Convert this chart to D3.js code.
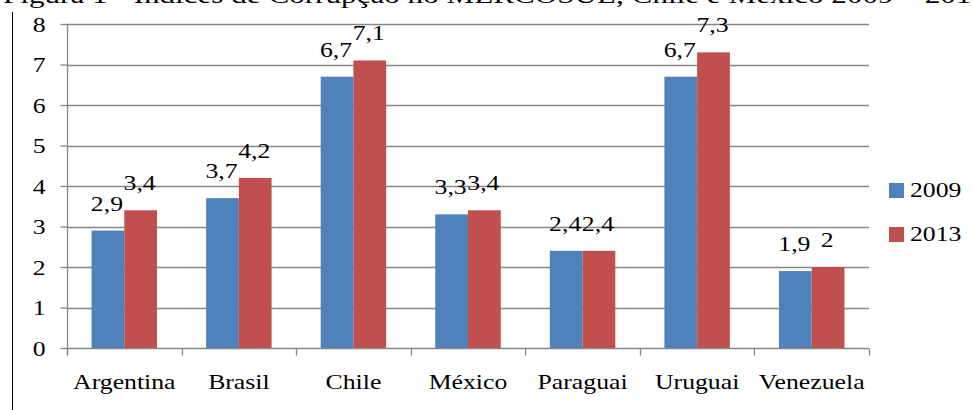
<!DOCTYPE html>
<html>
<head>
<meta charset="utf-8">
<script src="https://cdn.jsdelivr.net/npm/d3@7"></script>
<style>
  html, body { margin: 0; padding: 0; background: #fff; }
  svg { display: block; }
</style>
</head>
<body>
<svg id="chart" width="973" height="410"></svg>
<script>
// Índices de corrupção por país, 2009 e 2013
const countries = ["Argentina", "Brasil", "Chile", "México", "Paraguai", "Uruguai", "Venezuela"];
const years = ["2009", "2013"];
const values2009 = [2.9, 3.7, 6.7, 3.3, 2.4, 6.7, 1.9];
const values2013 = [3.4, 4.2, 7.1, 3.4, 2.4, 7.3, 2.0];
const yTicks = [0, 1, 2, 3, 4, 5, 6, 7, 8];
const titleText = "Figura 1 - Índices de Corrupção no MERCOSUL, Chile e México 2009 – 2013";

const colors = { "2009": "#4F81BD", "2013": "#C0504D" };
const seriesValues = { "2009": values2009, "2013": values2013 };

const SERIF = "'Liberation Serif', 'Times New Roman', serif";
const WIDEN = 1.17; // the serif glyphs are drawn somewhat wide

const svg = d3.select("#chart");
const plot = { left: 67, right: 869, top: 24, bottom: 348 };

const fmt = v => d3.format(".1~f")(v).replace(".", ",");

// Caption text running off the top edge
svg.append("text")
  .attr("class", "caption")
  .attr("x", 3).attr("y", 3)
  .style("font-family", SERIF)
  .style("font-size", "23px")
  .text(titleText);

// Page margin rule
svg.append("line")
  .attr("x1", 12.5).attr("x2", 12.5)
  .attr("y1", 12).attr("y2", 410)
  .attr("stroke", "#000").attr("stroke-width", 1);

const x0 = d3.scaleBand().domain(countries).range([plot.left, plot.right]).paddingInner(0).paddingOuter(0);
const x1 = d3.scaleBand().domain(years).range([0, x0.bandwidth()]).paddingInner(0).paddingOuter(0.75);
const y = d3.scaleLinear().domain([0, 8]).range([plot.bottom, plot.top]);

// Horizontal gridlines
svg.append("g")
  .selectAll("line")
  .data(yTicks.filter(t => t > 0))
  .join("line")
  .attr("x1", plot.left).attr("x2", plot.right)
  .attr("y1", d => Math.round(y(d)) + 0.5).attr("y2", d => Math.round(y(d)) + 0.5)
  .attr("stroke", "#878787").attr("stroke-width", 1.3);

// Bars
const groups = svg.append("g")
  .selectAll("g")
  .data(countries)
  .join("g")
  .attr("transform", d => `translate(${x0(d)},0)`);

groups.selectAll("rect")
  .data((c, i) => years.map(yr => ({ yr, v: seriesValues[yr][i] })))
  .join("rect")
  .attr("x", d => x1(d.yr))
  .attr("width", x1.bandwidth())
  .attr("y", d => y(d.v))
  .attr("height", d => y(0) - y(d.v))
  .attr("fill", d => colors[d.yr]);

// Value labels
groups.selectAll("text")
  .data((c, i) => years.map(yr => ({ yr, v: seriesValues[yr][i] })))
  .join("text")
  .attr("x", d => x1(d.yr) + x1.bandwidth() / 2 - 1)
  .attr("y", d => y(d.v) - 20)
  .attr("text-anchor", "middle")
  .style("font-family", SERIF)
  .style("font-size", "22px")
  .text(d => fmt(d.v));

// Y axis
const yAxis = d3.axisLeft(y).tickValues(yTicks).tickSize(7).tickPadding(15).tickFormat(d3.format("d"));
const gy = svg.append("g").attr("transform", `translate(${plot.left + 0.5},0)`).call(yAxis);
gy.select(".domain").attr("stroke", "#878787").attr("stroke-width", 1.3)
  .attr("d", `M0,${plot.top}V${plot.bottom + 7}`);
gy.selectAll(".tick line").attr("stroke", "#878787").attr("stroke-width", 1.3);
gy.selectAll(".tick text")
  .attr("dy", "0.34em")
  .style("font-family", SERIF)
  .style("font-size", "22px").attr("fill", "#000");

// X axis
const xAxis = d3.axisBottom(x0).tickSize(0).tickPadding(0);
const gx = svg.append("g").attr("transform", `translate(0,${plot.bottom + 0.5})`).call(xAxis);
gx.select(".domain").attr("stroke", "#878787").attr("stroke-width", 1.3)
  .attr("d", `M${plot.left},0H${plot.right}`);
gx.selectAll(".tick text")
  .attr("y", 40).attr("dy", 0)
  .style("font-family", SERIF)
  .style("font-size", "22px").attr("fill", "#000");
// Category separators below the baseline
gx.append("g").selectAll("line")
  .data(countries.map(c => x0(c)).concat([plot.right]))
  .join("line")
  .attr("x1", d => Math.round(d) + 0.5).attr("x2", d => Math.round(d) + 0.5)
  .attr("y1", 0).attr("y2", 7)
  .attr("stroke", "#878787").attr("stroke-width", 1.3);

// Legend
const legend = svg.append("g").attr("transform", "translate(889,183)");
const li = legend.selectAll("g").data(years).join("g")
  .attr("transform", (d, i) => `translate(0,${i * 44})`);
li.append("rect").attr("width", 15).attr("height", 15).attr("fill", d => colors[d]);
li.append("text").attr("x", 21).attr("y", 14)
  .style("font-family", SERIF)
  .style("font-size", "22px").text(d => d);

// Widen every label horizontally
svg.selectAll("text").each(function () {
  const w = this.getComputedTextLength();
  const isCaption = this.classList.contains("caption");
  d3.select(this)
    .attr("textLength", isCaption ? 984 : w * WIDEN)
    .attr("lengthAdjust", "spacingAndGlyphs");
});
</script>
</body>
</html>
